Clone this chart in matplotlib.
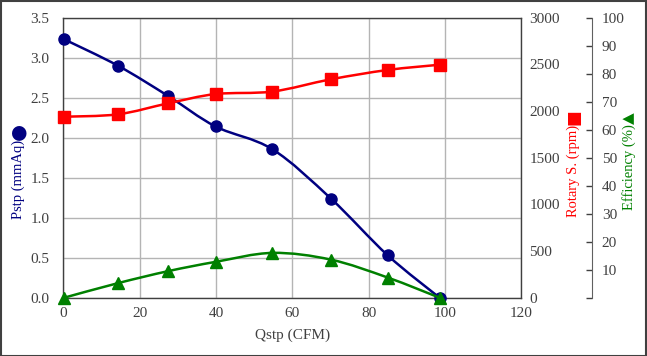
import numpy as np
import matplotlib
matplotlib.use("Agg")
import matplotlib.pyplot as plt
from matplotlib.path import Path
from matplotlib.patches import PathPatch, Rectangle

plt.rcParams['font.family'] = ['Liberation Serif', 'DejaVu Sans']

# data
qstp = [0.2, 14.3, 27.5, 39.9, 54.8, 70.1, 85.0, 98.6]
pstp = [3.23, 2.90, 2.52, 2.14, 1.855, 1.24, 0.53, 0.0]
rpm = [1939, 1965, 2083, 2182, 2209, 2340, 2440, 2496]
eff = [0.0, 5.2, 9.5, 12.8, 16.0, 13.6, 7.2, 0.0]

NAVY, RED, GREEN = "#000080", "#FF0000", "#008000"
TXT = "#404040"


def smooth(ax, x, y, color):
    # Excel-like smoothed line: Catmull-Rom drawn as cubic Beziers
    x, y = np.asarray(x, float), np.asarray(y, float)
    px = np.concatenate([[x[0]], x, [x[-1]]])
    py = np.concatenate([[y[0]], y, [y[-1]]])
    verts, codes = [(x[0], y[0])], [Path.MOVETO]
    for i in range(1, len(x)):
        c1 = (px[i] + (px[i+1] - px[i-1]) / 6, py[i] + (py[i+1] - py[i-1]) / 6)
        c2 = (px[i+1] - (px[i+2] - px[i]) / 6, py[i+1] - (py[i+2] - py[i]) / 6)
        verts += [c1, c2, (x[i], y[i])]
        codes += [Path.CURVE4] * 3
    ax.add_patch(PathPatch(Path(verts, codes), fill=False, ec=color, lw=1.8,
                           capstyle='round', joinstyle='round', zorder=3))


W, H = 647, 356
fig = plt.figure(figsize=(W/100, H/100), dpi=100)
ax = fig.add_axes([63.4/W, 1-297.7/H, (521.2-63.4)/W, (297.7-17.7)/H])

ax.set_xlim(0, 120)
ax.set_ylim(0, 3.5)
ax.set_xticks(range(0, 121, 20))
ax.set_yticks(np.arange(0, 3.51, 0.5))
ax.set_yticklabels([f"{v:.1f}" for v in np.arange(0, 3.51, 0.5)])
ax.grid(True, color="#B4B4B4", lw=1)
ax.set_axisbelow(True)
ax.tick_params(length=0, labelsize=11, labelcolor=TXT)
ax.tick_params(axis='y', pad=10)
ax.tick_params(axis='x', pad=7)
for s in ax.spines.values():
    s.set_color("#404040"); s.set_linewidth(1)
ax.set_xlabel("Qstp (CFM)", fontsize=11, color=TXT, labelpad=6)

smooth(ax, qstp, pstp, NAVY)
ax.plot(qstp, pstp, 'o', color=NAVY, ms=8, zorder=4, clip_on=False)

ax2 = ax.twinx()
ax2.set_ylim(0, 3000)
ax2.set_yticks(range(0, 3001, 500))
ax2.tick_params(length=0, labelsize=11, labelcolor=TXT, pad=6)
for s in ax2.spines.values():
    s.set_visible(False)
smooth(ax2, qstp, rpm, RED)
ax2.plot(qstp, rpm, 's', color=RED, ms=8, zorder=4, clip_on=False)

ax3 = ax.twinx()
ax3.set_ylim(0, 100)
ax3.spines['right'].set_position(('axes', 1.1546))
for k in ['left', 'top', 'bottom']:
    ax3.spines[k].set_visible(False)
ax3.spines['right'].set_color("#606060")
ax3.set_yticks(range(0, 101, 10))
ax3.set_yticklabels([''] + [str(v) for v in range(10, 101, 10)])
ax3.tick_params(direction='in', length=4, width=1, color="#404040",
                labelsize=11, labelcolor=TXT, pad=7)
smooth(ax3, qstp, eff, GREEN)
ax3.plot(qstp, eff, '^', color=GREEN, ms=8, zorder=4, clip_on=False)
ax3.set_xlim(0, 120)

# axis titles with their marker glyphs
def vlabel(x, y_text, y_glyph, text, glyph, color, gsize=13):
    fig.text(x/W, 1-y_text/H, text, rotation=90, ha='center', va='center',
             fontsize=10.5, color=color)
    fig.text(x/W, 1-y_glyph/H, glyph, rotation=90, ha='center', va='center',
             fontsize=gsize, color=color, family='DejaVu Sans')

vlabel(18, 179, 132, "Pstp (mmAq)", "●", NAVY, 14)
vlabel(573, 171, 117.5, "Rotary S. (rpm)", "■", RED, 12)
vlabel(629, 167.5, 118, "Efficiency (%)", "▲", GREEN, 11)

fig.patches.append(Rectangle((0.5/W, 0.5/H), 1-1.5/W, 1-1.5/H, transform=fig.transFigure,
                             fill=False, ec="#404040", lw=1.5))

fig.savefig("out.png", dpi=100)
